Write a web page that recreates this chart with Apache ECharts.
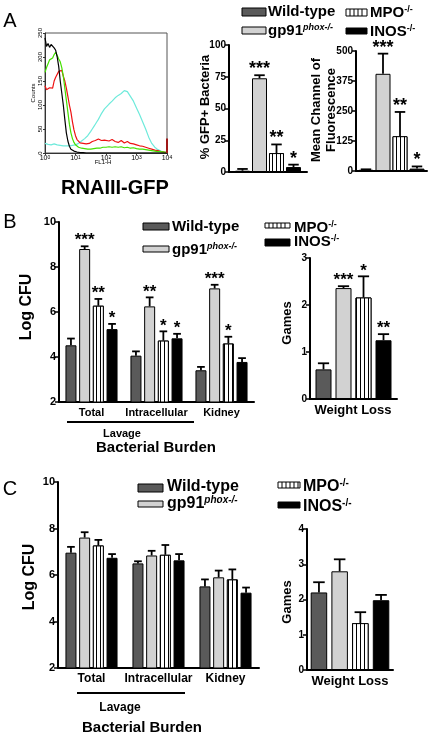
<!DOCTYPE html>
<html><head><meta charset="utf-8">
<script src="https://cdn.jsdelivr.net/npm/echarts@6/dist/echarts.min.js"></script>
<style>html,body{margin:0;padding:0;background:#fff}#c{width:433px;height:735px}</style>
</head><body><div id="c"></div>
<script>
// ---------------- DATA ----------------
const genotypes = ['Wild-type', 'gp91phox-/-', 'MPO-/-', 'INOS-/-'];

// Panel A flow histogram (x = log10 FL1-H, y = counts)
const flowLogX = [0,0.05,0.1,0.15,0.2,0.25,0.3,0.35,0.4,0.45,0.5,0.55,0.6,0.65,0.7,0.75,0.8,0.85,0.9,0.95,1,1.05,1.1,1.15,1.2,1.25,1.3,1.35,1.4,1.45,1.5,1.55,1.6,1.65,1.7,1.75,1.8,1.85,1.9,1.95,2,2.1,2.2,2.3,2.4,2.5,2.6,2.7,2.8,2.9,3,3.1,3.2,3.3,3.4,3.5,3.6,3.7,3.8,3.9,4];
const flowBlack = [240,222,228,220,226,224,219,214,200,180, 150,125,100,70,42,25,14,8,5,4, 3,2,2,1,1,1,1,0,1,0, 0,0,0,0,0,0,0,0,0,0, 0, 0,0,0,0,0,0,0,0,0,0, 0,0,0,0,0,0,0,0,0,0];
const flowGreen = [168,178,186,194,190,198,205,210,203,196, 190,178,160,135,110,85,60,42,30,22, 17,14,12,11,10,9,9,8,8,9, 8,9,9,10,10,11,10,11,12,11, 12, 13,12,13,12,13,11,12,10,11,9, 8,8,7,6,5,4,3,3,2,1];
const flowRed = [140,132,128,136,140,135,150,158,162,170, 168,172,160,150,135,118,100,85,65,48, 36,28,24,21,19,20,18,19,21,20, 22,24,23,26,27,29,27,26,29,27, 28, 25,28,24,22,26,21,24,20,19,17, 15,14,12,10,8,6,5,3,2,1];
const flowCyan = [20,19,18,20,17,18,19,16,17,18, 16,17,15,16,15,17,15,16,16,17, 17,19,20,22,25,28,30,33,36,40, 45,50,55,60,65,70,76,82,86,92, 96, 102,108,115,120,124,130,128,118,108,94, 80,65,50,33,20,12,7,4,2,1];
const redEdgeSpike = 30;
const flowXTicks = [0, 1, 2, 3, 4];

// Panel A bars
const gfpPct = [1.0, 73.8, 14.9, 3.9];
const gfpPctErr = [1.4, 2.4, 6.8, 1.9];
const gfpStars = ['', '***', '**', '*'];
const mcfVals = [5, 405, 145, 10];
const mcfErr = [2, 84, 101, 9];
const mcfStars = ['', '***', '**', '*'];

// Panel B
const burdenCats = ['Total', 'Intracellular', 'Kidney'];
const bWT = [4.52, 4.06, 3.41],  bWTErr = [0.3, 0.19, 0.15],  bWTStars = ['', '', ''];
const bGp = [8.8, 6.25, 7.05],   bGpErr = [0.12, 0.4, 0.16],  bGpStars = ['***', '**', '***'];
const bMPO = [6.28, 4.73, 4.6],  bMPOErr = [0.3, 0.41, 0.3],  bMPOStars = ['**', '*', '*'];
const bINOS = [5.24, 4.83, 3.78], bINOSErr = [0.23, 0.2, 0.17], bINOSStars = ['*', '*', ''];
const gamesB = [0.63, 2.36, 2.16, 1.25];
const gamesBErr = [0.13, 0.04, 0.45, 0.13];
const gamesBStars = ['', '***', '*', '**'];

// Panel C
const cWT = [6.96, 6.5, 5.51],   cWTErr = [0.25, 0.09, 0.3];
const cGp = [7.61, 6.84, 5.9],   cGpErr = [0.23, 0.2, 0.29];
const cMPO = [7.27, 6.87, 5.81], cMPOErr = [0.24, 0.42, 0.43];
const cINOS = [6.74, 6.63, 5.24], cINOSErr = [0.16, 0.27, 0.22];
const gamesC = [2.2, 2.8, 1.33, 1.98];
const gamesCErr = [0.29, 0.34, 0.31, 0.15];
const noStars3 = ['', '', ''];
const noStars1 = [''];

// ---------------- BUILD ----------------
const FONT = '"Liberation Sans", Arial, Helvetica, sans-serif';
const chart = echarts.init(document.getElementById('c'), null, {renderer: 'canvas'});
const grids = [], xAxes = [], yAxes = [], series = [], graphics = [];

const barStyles = [
  {color: '#5a5a5a', borderColor: '#000', borderWidth: 1},
  {color: '#d2d2d2', borderColor: '#000', borderWidth: 1},
  {color: '#fff', borderColor: '#000', borderWidth: 1,
   decal: {symbol: 'rect', symbolSize: 1, dashArrayX: [1, 3], dashArrayY: [4, 0], rotation: 0, color: '#000', backgroundColor: '#fff'}},
  {color: '#000', borderColor: '#000', borderWidth: 1}
];

function yAxisBase(gi, min, max, interval, fs) {
  return {
    gridIndex: gi, type: 'value', min, max, interval,
    axisLine: {show: true, lineStyle: {color: '#000', width: 2}},
    axisTick: {show: true, length: 4, lineStyle: {color: '#000', width: 1.5}},
    axisLabel: {color: '#000', fontWeight: 'bold', fontSize: fs, fontFamily: FONT, margin: 3},
    splitLine: {show: false}
  };
}

function barPanel(o) {
  grids.push({left: o.left, top: o.top, width: o.width, height: o.height});
  const gi = grids.length - 1;
  xAxes.push({
    gridIndex: gi, type: 'category', data: o.cats,
    axisLine: {show: true, lineStyle: {color: '#000', width: 2}},
    axisTick: {show: false},
    axisLabel: {show: !!o.xLabelSize, color: '#000', fontWeight: 'bold', fontSize: o.xLabelSize || 10, fontFamily: FONT, margin: 5, interval: 0}
  });
  const xi = xAxes.length - 1;
  yAxes.push(yAxisBase(gi, o.min, o.max, o.interval, o.yLabelSize));
  const yi = yAxes.length - 1;
  const gap = ((o.spacing - o.barW) / o.barW * 100).toFixed(1) + '%';
  o.values.forEach((vals, k) => {
    series.push({type: 'bar', name: genotypes[k], xAxisIndex: xi, yAxisIndex: yi, data: vals,
      barWidth: o.barW, barGap: gap, itemStyle: barStyles[k], silent: true, animation: false});
  });
  const data = [];
  o.values.forEach((vals, k) => vals.forEach((v, i) => data.push([i, v, o.errs[k][i], k, o.stars[k][i]])));
  series.push({
    type: 'custom', xAxisIndex: xi, yAxisIndex: yi, z: 10, silent: true, animation: false,
    data: data.map(d => [d[0], d[1], d[2], d[3]]),
    renderItem: function (params, api) {
      const d = data[params.dataIndex];
      const c0 = api.coord([d[0], d[1]]);
      const c1 = api.coord([d[0], d[1] + d[2]]);
      const x = c0[0] + (d[3] - 1.5) * o.spacing;
      const cw = o.barW * 0.7;
      const ch = [
        {type: 'line', shape: {x1: x, y1: c0[1], x2: x, y2: c1[1]}, style: {stroke: '#000', lineWidth: 1.8}},
        {type: 'line', shape: {x1: x - cw / 2, y1: c1[1], x2: x + cw / 2, y2: c1[1]}, style: {stroke: '#000', lineWidth: 1.8}}
      ];
      if (d[4]) ch.push({type: 'text', x: x, y: c1[1] + o.starDy,
        style: {text: d[4], fill: '#000', font: 'bold ' + o.starSize + 'px ' + FONT, align: 'center', verticalAlign: 'bottom'}});
      return {type: 'group', children: ch};
    }
  });
}

// ---- Flow histogram ----
grids.push({left: 45, top: 33, width: 122, height: 120, show: true, borderColor: '#555', borderWidth: 1});
xAxes.push({gridIndex: 0, type: 'value', min: 0, max: 4, interval: 1,
  axisLine: {show: true, onZero: false, lineStyle: {color: '#333', width: 1}},
  axisTick: {show: true, length: 2, lineStyle: {color: '#333'}},
  axisLabel: {color: '#000', fontSize: 7, fontFamily: FONT, margin: 2,
    formatter: v => flowXTicks.indexOf(v) >= 0 ? '10{s|' + v + '}' : '',
    rich: {s: {fontSize: 5, verticalAlign: 'top', fontFamily: FONT}}},
  splitLine: {show: false}});
yAxes.push({gridIndex: 0, type: 'value', min: 0, max: 250, interval: 50,
  axisLine: {show: true, lineStyle: {color: '#333', width: 1}},
  axisTick: {show: true, length: 2, lineStyle: {color: '#333'}},
  axisLabel: {color: '#000', fontSize: 6, fontFamily: FONT, margin: 2, rotate: 90},
  splitLine: {show: false}});
const flowSeries = [[flowCyan, '#6eeadb'], [flowRed, '#ee1111'], [flowGreen, '#44e000'], [flowBlack, '#000']];
flowSeries.forEach(([arr, col]) => {
  const s = {type: 'line', xAxisIndex: 0, yAxisIndex: 0, data: flowLogX.map((x, i) => [x, arr[i]]),
    showSymbol: false, symbol: 'none', lineStyle: {color: col, width: 1.2}, animation: false, silent: true};
  if (arr === flowRed) {
    s.markLine = {symbol: 'none', silent: true, label: {show: false}, lineStyle: {color: '#a01818', width: 2, type: 'solid'},
      data: [[{coord: [4, 0]}, {coord: [4, redEdgeSpike]}]]};
  }
  series.push(s);
});

// ---- A bars ----
barPanel({left: 229, top: 45, width: 78, height: 127, cats: [''], min: 0, max: 100, interval: 25, yLabelSize: 10,
  values: gfpPct.map(v => [v]), errs: gfpPctErr.map(v => [v]), stars: gfpStars.map(v => [v]),
  barW: 15, spacing: 17, starDy: 3, starSize: 18});
barPanel({left: 356, top: 51, width: 71, height: 120, cats: [''], min: 0, max: 500, interval: 125, yLabelSize: 10,
  values: mcfVals.map(v => [v]), errs: mcfErr.map(v => [v]), stars: mcfStars.map(v => [v]),
  barW: 15, spacing: 17, starDy: 3, starSize: 18});

// ---- B ----
barPanel({left: 59, top: 222, width: 195, height: 180, cats: burdenCats, min: 2, max: 10, interval: 2, yLabelSize: 11, xLabelSize: 11,
  values: [bWT, bGp, bMPO, bINOS], errs: [bWTErr, bGpErr, bMPOErr, bINOSErr], stars: [bWTStars, bGpStars, bMPOStars, bINOSStars],
  barW: 11, spacing: 13.7, starDy: 3, starSize: 17});
barPanel({left: 310, top: 258, width: 87, height: 141, cats: [''], min: 0, max: 3, interval: 1, yLabelSize: 10,
  values: gamesB.map(v => [v]), errs: gamesBErr.map(v => [v]), stars: gamesBStars.map(v => [v]),
  barW: 16, spacing: 20, starDy: 3, starSize: 17});

// ---- C ----
barPanel({left: 58, top: 482, width: 201, height: 186, cats: burdenCats, min: 2, max: 10, interval: 2, yLabelSize: 11, xLabelSize: 12,
  values: [cWT, cGp, cMPO, cINOS], errs: [cWTErr, cGpErr, cMPOErr, cINOSErr], stars: [noStars3, noStars3, noStars3, noStars3],
  barW: 11, spacing: 13.7, starDy: 3, starSize: 17});
barPanel({left: 307, top: 529, width: 86, height: 141, cats: [''], min: 0, max: 4, interval: 1, yLabelSize: 10,
  values: gamesC.map(v => [v]), errs: gamesCErr.map(v => [v]), stars: [noStars1, noStars1, noStars1, noStars1],
  barW: 16.5, spacing: 20.7, starDy: 3, starSize: 17});

// ---------------- GRAPHICS (labels, legends) ----------------
function txt(x, y, text, font, opts) {
  opts = opts || {};
  graphics.push({type: 'text', x, y, rotation: opts.rot || 0, silent: true,
    style: Object.assign({text, font, fill: '#000', align: opts.align || 'center', verticalAlign: 'middle'}, opts.extra || {})});
}
function line(x1, y1, x2, y2, w) {
  graphics.push({type: 'line', silent: true, shape: {x1, y1, x2, y2}, style: {stroke: '#000', lineWidth: w || 2}});
}
function swatch(k, x, y, w, h) {
  const st = barStyles[k];
  graphics.push({type: 'rect', silent: true, shape: {x, y, width: w, height: h}, style: {fill: st.color, stroke: '#000', lineWidth: 1}});
  if (k === 2) for (let sx = x + 4; sx < x + w - 1; sx += 4) line(sx, y, sx, y + h, 1);
}
function legendLabel(k, x, y, size) {
  const sup = Math.round(size * 0.62);
  const rich = {b: {font: 'bold ' + size + 'px ' + FONT, fill: '#000'},
                s: {font: 'bold ' + sup + 'px ' + FONT, fill: '#000', verticalAlign: 'top', padding: [0, 0, Math.round(size * 0.45), 0]},
                si: {font: 'italic bold ' + sup + 'px ' + FONT, fill: '#000', verticalAlign: 'top', padding: [0, 0, Math.round(size * 0.45), 0]}};
  const texts = ['{b|Wild-type}', '{b|gp91}{si|phox-/-}', '{b|MPO}{s|-/-}', '{b|INOS}{s|-/-}'];
  graphics.push({type: 'text', x, y, silent: true,
    style: {text: texts[k], rich, align: 'left', verticalAlign: 'middle'}});
}
function legendSet(rows, size) {
  rows.forEach(r => { swatch(r[0], r[1], r[2], r[3], r[4]); legendLabel(r[0], r[5], r[6], size); });
}

// panel letters
txt(10, 21, 'A', '20px ' + FONT);
txt(10, 222, 'B', '20px ' + FONT);
txt(10, 489, 'C', '20px ' + FONT);

// A
txt(33, 93, 'Counts', '6px ' + FONT, {rot: Math.PI / 2});
txt(103, 162, 'FL1-H', '6px ' + FONT);
txt(115, 188, 'RNAIII-GFP', 'bold 20px ' + FONT);
txt(205, 107, '% GFP+ Bacteria', 'bold 13px ' + FONT, {rot: Math.PI / 2});
txt(324, 110, 'Mean Channel of\nFluorescence', 'bold 13px ' + FONT, {rot: Math.PI / 2, extra: {lineHeight: 15}});
legendSet([[0, 242, 8, 24, 8, 268, 12], [1, 242, 27, 24, 7, 268, 31], [2, 346, 9, 21, 7, 370, 13], [3, 346, 28, 21, 6, 370, 32]], 15);

// B
txt(27, 307, 'Log CFU', 'bold 16px ' + FONT, {rot: Math.PI / 2});
line(67, 422, 194, 422, 2);
txt(122, 434, 'Lavage', 'bold 11px ' + FONT);
txt(156, 448, 'Bacterial Burden', 'bold 15px ' + FONT);
txt(287, 323, 'Games', 'bold 13px ' + FONT, {rot: Math.PI / 2});
txt(353, 410, 'Weight Loss', 'bold 13px ' + FONT);
legendSet([[0, 143, 223, 26, 7, 172, 227], [1, 143, 246, 26, 6, 172, 250], [2, 265, 223, 25, 5, 294, 228], [3, 265, 239, 25, 7, 294, 242]], 15);

// C
txt(30, 577, 'Log CFU', 'bold 16px ' + FONT, {rot: Math.PI / 2});
line(77, 693, 185, 693, 2);
txt(120, 708, 'Lavage', 'bold 12px ' + FONT);
txt(142, 728, 'Bacterial Burden', 'bold 15px ' + FONT);
txt(287, 602, 'Games', 'bold 13px ' + FONT, {rot: Math.PI / 2});
txt(350, 681, 'Weight Loss', 'bold 13px ' + FONT);
legendSet([[0, 138, 484, 25, 8, 167, 487], [1, 138, 501, 25, 6, 167, 504], [2, 278, 482, 22, 6, 303, 487], [3, 278, 502, 22, 6, 303, 507]], 16);

chart.setOption({
  animation: false,
  backgroundColor: '#fff',
  textStyle: {fontFamily: FONT},
  grid: grids, xAxis: xAxes, yAxis: yAxes, series,
  graphic: {elements: graphics}
});
</script></body></html>
